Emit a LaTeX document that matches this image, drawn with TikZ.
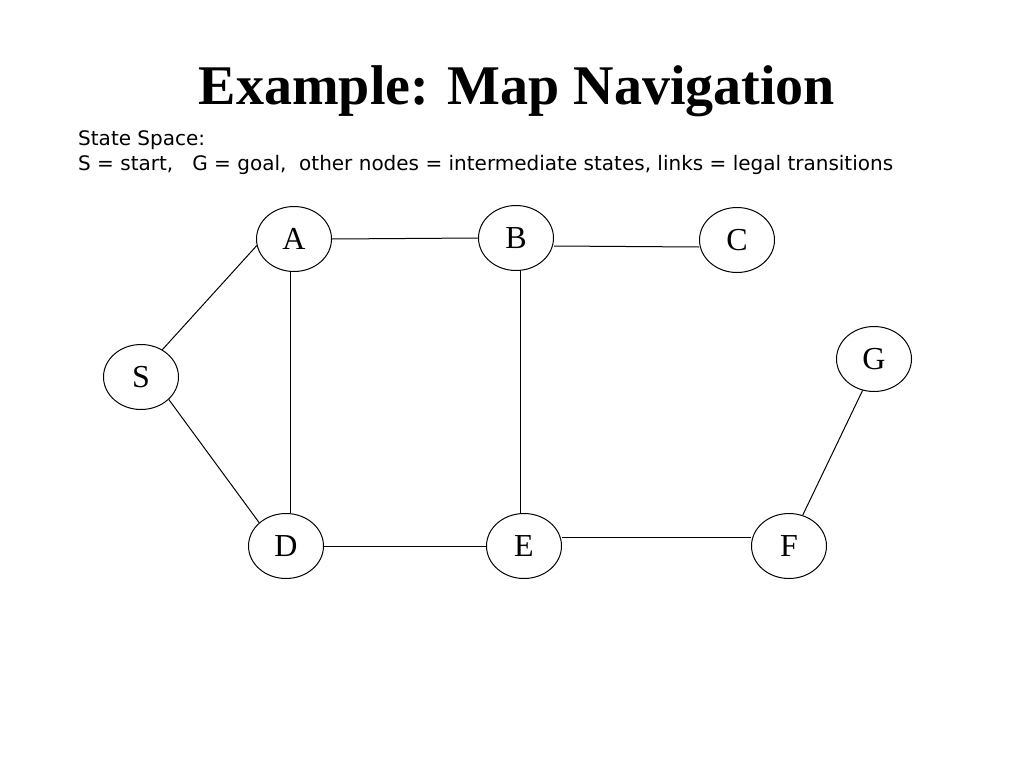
\documentclass[tikz,border=0pt]{standalone}
\usepackage{fontspec}
\setmainfont{Liberation Serif}
\newfontfamily\subfont{DejaVu Sans}
\usetikzlibrary{shapes.geometric}
\begin{document}
\begin{tikzpicture}[x=1pt,y=-1pt,
  state/.style={ellipse,draw,line width=1pt,minimum width=75pt,minimum height=65pt,inner sep=0pt,font=\fontsize{32}{32}\selectfont},
  link/.style={line width=1pt}]
\useasboundingbox[fill=white] (0,0) rectangle (1024,768);
\node[font=\fontsize{56}{56}\selectfont\bfseries] (title) at (517,91) {Example: Map Navigation};
\node[anchor=base west,align=left,inner sep=0pt,font=\subfont\fontsize{20}{25}\selectfont] (sub) at (78,170)
  {State Space:\\S = start,\ \ \ G = goal,\ \ other nodes = intermediate states, links = legal transitions};
\node[state] (A) at (294,239) {A};
\node[state] (B) at (516,238) {B};
\node[state] (C) at (737,240) {C};
\node[state] (S) at (141,377) {S};
\node[state] (G) at (874,359) {G};
\node[state] (D) at (286,546) {D};
\node[state] (E) at (524,546) {E};
\node[state] (F) at (789,546) {F};
\draw[link] (A.east) -- (B.west);
\draw[link] ([yshift=-8pt]B.east) -- ([yshift=-7pt]C.west);
\draw[link] (S.52) -- (A.190);
\draw[link] (S.321) -- (D.139);
\draw[link] ([xshift=-4pt]A.south) -- ([xshift=4pt]D.north);
\draw[link] ([xshift=4pt]B.south) -- ([xshift=-4pt]E.north);
\draw[link] (D.east) -- (E.west);
\draw[link] ([yshift=9pt]E.east) -- ([yshift=9pt]F.west);
\draw[link] (F.66) -- (G.250);
\end{tikzpicture}
\end{document}
